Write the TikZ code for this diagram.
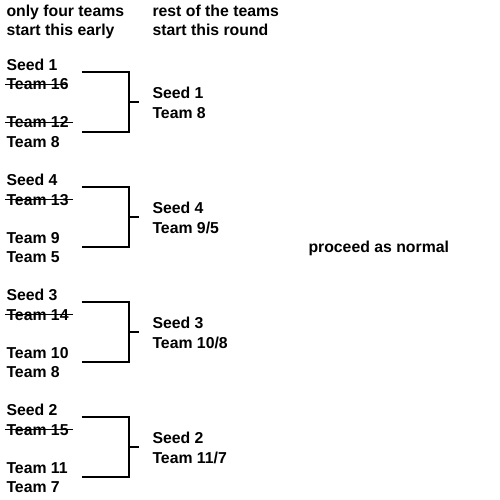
\documentclass[tikz,border=0pt]{standalone}
\usepackage{fontspec}
\setmainfont{Liberation Sans}
\usetikzlibrary{positioning}

\begin{document}
\begin{tikzpicture}[x=1pt, y=-1pt, line width=2pt,
  every node/.style={font=\bfseries\fontsize{15.8}{19}\selectfont, inner sep=0pt, anchor=base west},
  strike/.style={line width=1.6pt}]
  \useasboundingbox (0,0) rectangle (500,500);

  % column headings
  \node (early1) at (5.5,17) {only four teams};
  \node (early2) at (5.5,36) {start this early};
  \node (rest1) at (151.5,17) {rest of the teams};
  \node (rest2) at (151.5,36) {start this round};

  % seed 1
  \node (s1) at (5.5,70.5) {Seed 1};
  \node (s1a) at (5.5,90) {Team 16};
  \node (s1b) at (5.5,128) {Team 12};
  \node (s1c) at (5.5,147) {Team 8};
  \draw[strike] ([xshift=-0.5pt]s1a.west) -- +(62,0);
  \draw[strike] ([xshift=-0.5pt]s1b.west) -- +(67.5,0);
  \coordinate (b1top) at (81.5,72);
  \coordinate (b1end) at (128.5,72);
  \coordinate (b1bot) at (81.5,132);
  \coordinate (b1out) at (138.5,102);
  \draw (b1top) -- (b1end) |- (b1bot);
  \draw (b1end |- b1out) -- (b1out);
  \node (w1) at (151.5,98.5) {Seed 1};
  \node (w1t) at (151.5,118) {Team 8};

  % seed 4
  \begin{scope}[shift={(0,115)}]
    \node (s4) at (5.5,70.5) {Seed 4};
    \node (s4a) at (5.5,90) {Team 13};
    \node (s4b) at (5.5,128) {Team 9};
    \node (s4c) at (5.5,147) {Team 5};
    \draw[strike] ([xshift=-0.5pt]s4a.west) -- +(67.5,0);
    \coordinate (b4top) at (81.5,72);
    \coordinate (b4end) at (128.5,72);
    \coordinate (b4bot) at (81.5,132);
    \coordinate (b4out) at (138.5,102);
    \draw (b4top) -- (b4end) |- (b4bot);
    \draw (b4end |- b4out) -- (b4out);
    \node (w4) at (151.5,98.5) {Seed 4};
    \node (w4t) at (151.5,118) {Team 9/5};
  \end{scope}

  % seed 3
  \begin{scope}[shift={(0,230)}]
    \node (s3) at (5.5,70.5) {Seed 3};
    \node (s3a) at (5.5,90) {Team 14};
    \node (s3b) at (5.5,128) {Team 10};
    \node (s3c) at (5.5,147) {Team 8};
    \draw[strike] ([xshift=-0.5pt]s3a.west) -- +(67.5,0);
    \coordinate (b3top) at (81.5,72);
    \coordinate (b3end) at (128.5,72);
    \coordinate (b3bot) at (81.5,132);
    \coordinate (b3out) at (138.5,102);
    \draw (b3top) -- (b3end) |- (b3bot);
    \draw (b3end |- b3out) -- (b3out);
    \node (w3) at (151.5,98.5) {Seed 3};
    \node (w3t) at (151.5,118) {Team 10/8};
  \end{scope}

  % seed 2
  \begin{scope}[shift={(0,345)}]
    \node (s2) at (5.5,70.5) {Seed 2};
    \node (s2a) at (5.5,90) {Team 15};
    \node (s2b) at (5.5,128) {Team 11};
    \node (s2c) at (5.5,147) {Team 7};
    \draw[strike] ([xshift=-0.5pt]s2a.west) -- +(67.5,0);
    \coordinate (b2top) at (81.5,72);
    \coordinate (b2end) at (128.5,72);
    \coordinate (b2bot) at (81.5,132);
    \coordinate (b2out) at (138.5,102);
    \draw (b2top) -- (b2end) |- (b2bot);
    \draw (b2end |- b2out) -- (b2out);
    \node (w2) at (151.5,98.5) {Seed 2};
    \node (w2t) at (151.5,118) {Team 11/7};
  \end{scope}

  \node (normal) at (307.5,252) {proceed as normal};
\end{tikzpicture}
\end{document}
